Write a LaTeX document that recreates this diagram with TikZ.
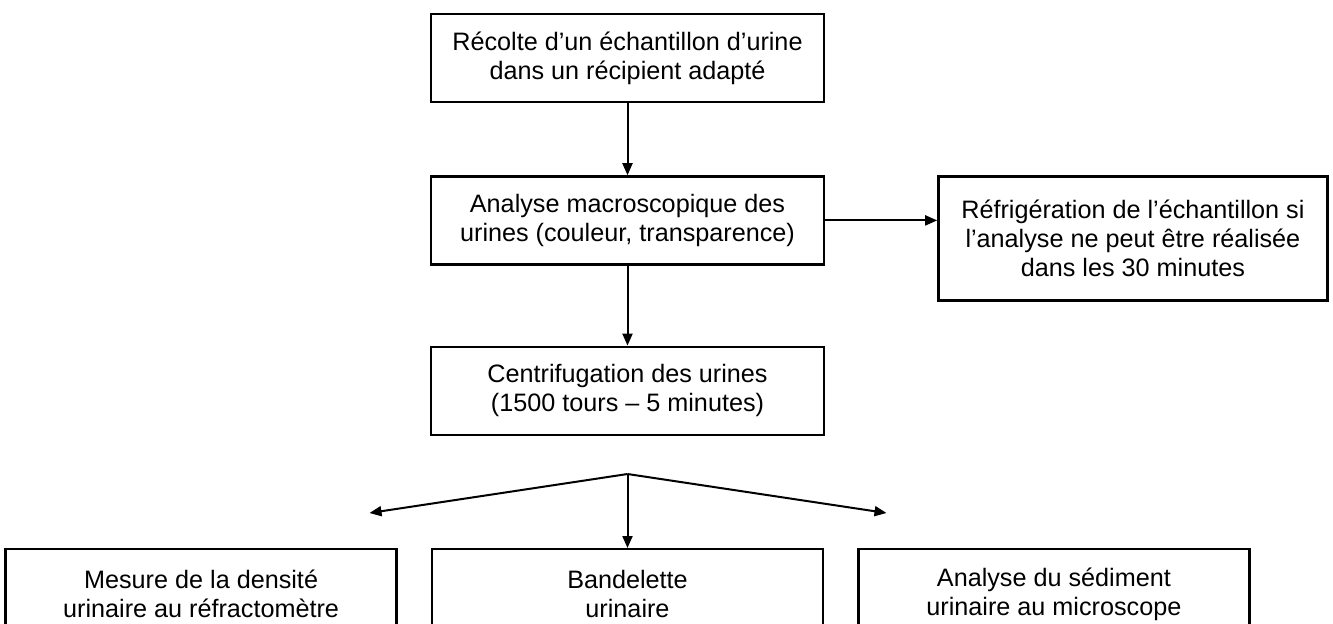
\documentclass[tikz,border=0pt]{standalone}
\usepackage{fontspec}
\setmainfont{Liberation Sans}
\usetikzlibrary{positioning,arrows.meta}

\begin{document}
\begin{tikzpicture}[x=0.5pt,y=-0.5pt,node distance=36pt,
    >={Triangle[length=6pt,width=5pt]},
    etape/.style={draw,line width=1.2pt,align=center,minimum width=196.5pt,
      minimum height=44pt,inner sep=2pt,font=\fontsize{12.6}{14.5}\selectfont},
    bas/.style={etape,minimum width=195.5pt,minimum height=45pt},
    fleche/.style={->,line width=1pt}]

    \useasboundingbox (0,0) rectangle (1333,623);

          \node[etape]            (recolte) at (627.5,58)    {Récolte d’un échantillon d’urine\\dans un récipient adapté};
          \node[etape]            (macro)   [below=of recolte] {Analyse macroscopique des\\urines (couleur, transparence)};
          \node[etape,minimum width=194.5pt,minimum height=62pt,anchor=north west]
                                  (froid)   at ([xshift=56pt]macro.north east)
                                  {Réfrigération de l’échantillon si\\l’analyse ne peut être réalisée\\dans les 30 minutes};
          \node[etape]            (centri)  [below=40pt of macro] {Centrifugation des urines\\(1500 tours -- 5 minutes)};

          \coordinate[below=19pt of centri] (fourche);
          \node[bas]              (bandelette) [below=37pt of fourche]     {Bandelette\\urinaire};
          \node[bas]              (densite)    [left=16.5pt of bandelette] {Mesure de la densité\\urinaire au réfractomètre};
          \node[bas]              (sediment)   [right=16.5pt of bandelette] {Analyse du sédiment\\urinaire au microscope};

          \coordinate (vers-densite)  at ([shift={(-129pt,-19.5pt)}]fourche);
          \coordinate (vers-sediment) at ([shift={(129.5pt,-19.5pt)}]fourche);

          \path[fleche] (recolte)    edge (macro)
                        (macro.east) edge (macro.east -| froid.west)
                        (macro)      edge (centri)
                        (fourche)    edge (vers-densite)
                        (fourche)    edge (vers-sediment)
                        (fourche)    edge (bandelette);
        \end{tikzpicture}
\end{document}
